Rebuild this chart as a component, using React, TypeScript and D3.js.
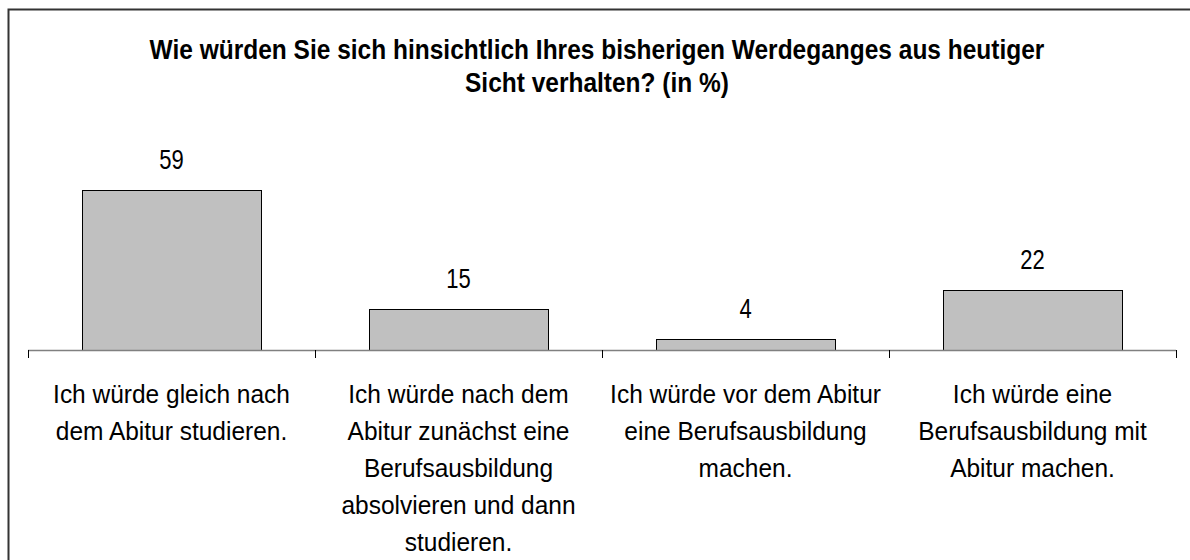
import React from "react";
import * as d3 from "d3";

const categories = [
  "Ich würde gleich nach dem Abitur studieren.",
  "Ich würde nach dem Abitur zunächst eine Berufsausbildung absolvieren und dann studieren.",
  "Ich würde vor dem Abitur eine Berufsausbildung machen.",
  "Ich würde eine Berufsausbildung mit Abitur machen.",
];
const categoryLines = [
  ["Ich würde gleich nach", "dem Abitur studieren."],
  ["Ich würde nach dem", "Abitur zunächst eine", "Berufsausbildung", "absolvieren und dann", "studieren."],
  ["Ich würde vor dem Abitur", "eine Berufsausbildung", "machen."],
  ["Ich würde eine", "Berufsausbildung mit", "Abitur machen."],
];
const values = [59, 15, 4, 22];
const titleLines = [
  "Wie würden Sie sich hinsichtlich Ihres bisherigen Werdeganges aus heutiger",
  "Sicht verhalten? (in %)",
];

const W = 1190;
const H = 560;
const FONT = "'Liberation Sans', Arial, sans-serif";

export default function App() {
  const x = d3.scaleBand<string>().domain(categories).range([28, 1176]).paddingInner(0.376).paddingOuter(0.188);
  const band = d3.scaleBand<string>().domain(categories).range([28, 1176]);
  const y = d3.scaleLinear().domain([0, 100]).range([350, 78.8]);

  const txt = (cx: number, cy: number, s: string, size: number, sy: number, bold = false, key?: any) => (
    <text
      key={key}
      transform={`translate(${cx},${cy}) scale(1,${sy})`}
      textAnchor="middle"
      fontFamily={FONT}
      fontSize={size}
      fontWeight={bold ? "bold" : "normal"}
      fill="#000"
    >
      {s}
    </text>
  );

  return (
    <div style={{ position: "absolute", left: 0, top: 0 }}>
      <svg width={W} height={H} style={{ display: "block", background: "#fff" }}>
        <rect x={8.5} y={9.5} width={W + 20} height={H + 20} fill="#fff" stroke="#333" strokeWidth={2} />
        {titleLines.map((l, i) => txt(597, 58.5 + i * 33, l, 24.5, 1.12, true, "t" + i))}
        {categories.map((c, i) => {
          const bx = x(c)!;
          const bw = x.bandwidth();
          const top = y(values[i]);
          return (
            <g key={c}>
              <rect x={Math.round(bx) + 0.5} y={Math.round(top) + 0.5} width={Math.round(bw)} height={Math.round(y(0) - top)} fill="#c0c0c0" stroke="#000" strokeWidth={1} />
              {txt(bx + bw / 2, top - 21, String(values[i]), 22, 1.25, false, "v")}
            </g>
          );
        })}
        <line x1={28} x2={1176} y1={350.5} y2={350.5} stroke="#808080" strokeWidth={1.5} />
        {[...categories.map((c) => band(c)!), 1176].map((tx, i) => (
          <line key={"k" + i} x1={Math.round(tx) + 0.5} x2={Math.round(tx) + 0.5} y1={350} y2={358} stroke="#000" strokeWidth={1} />
        ))}
        {categories.map((c, i) =>
          categoryLines[i].map((l, j) => txt(band(c)! + band.bandwidth() / 2, 403 + j * 37.1, l, 24.5, 1.08, false, c + j))
        )}
      </svg>
    </div>
  );
}
